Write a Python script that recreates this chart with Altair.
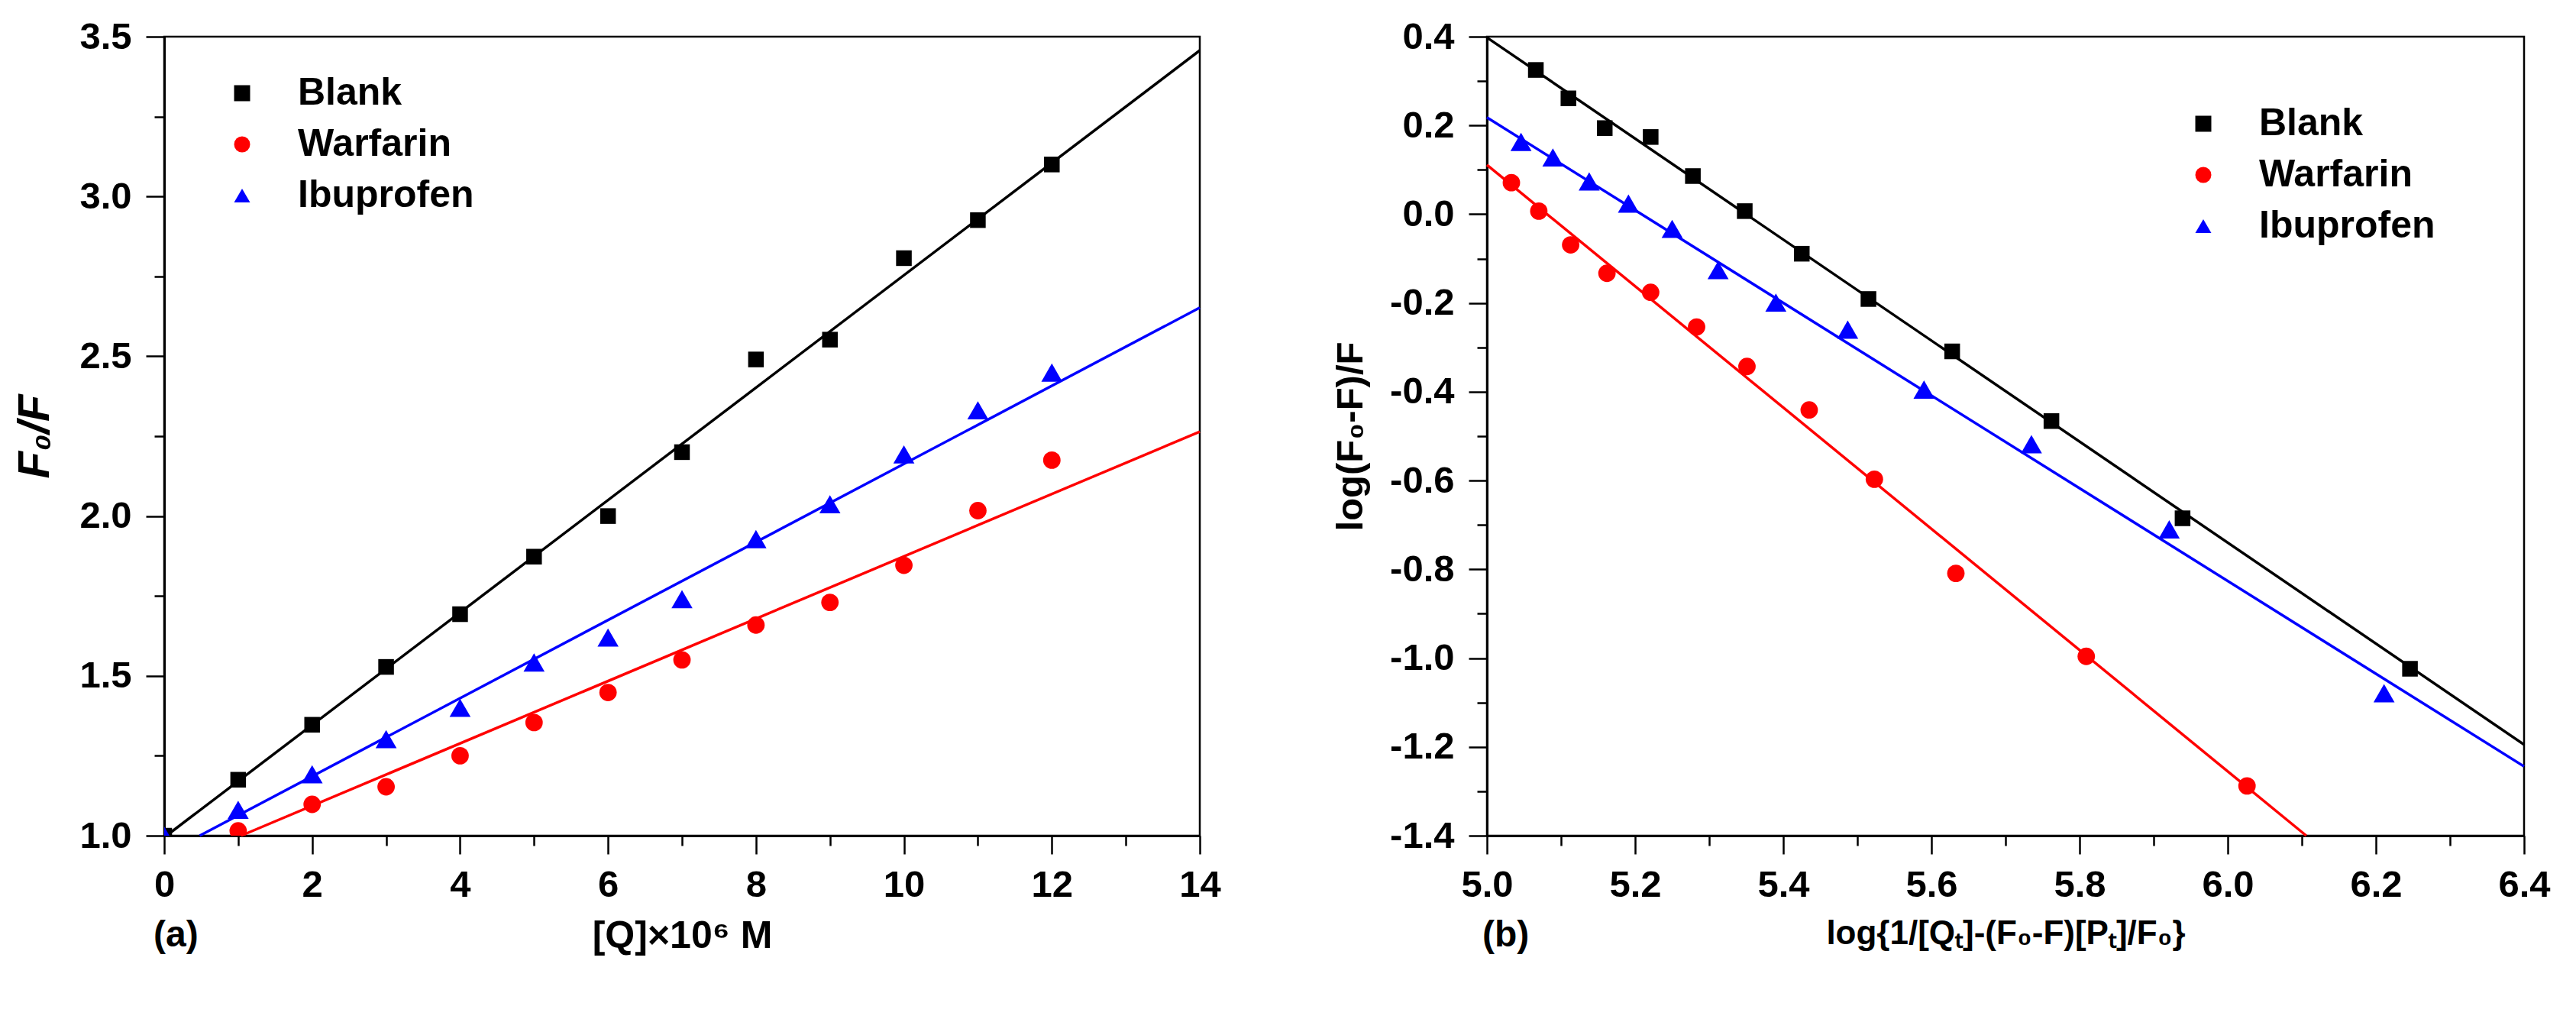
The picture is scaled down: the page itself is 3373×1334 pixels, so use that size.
import altair as alt
import pandas as pd

# ---------------- data ----------------
series = ["Blank", "Warfarin", "Ibuprofen"]
colors = ["#000000", "#ff0000", "#0000ff"]
shapes = ["square", "circle", "triangle-up"]
sizes = [420, 520, 760]

# panel (a): F0/F vs [Q]x10^6 M
a_x = [0, 1, 2, 3, 4, 5, 6, 7, 8, 9, 10, 11, 12]
a_blank = [1.0, 1.175, 1.347, 1.528, 1.693, 1.873, 2.0, 2.2, 2.49, 2.552, 2.807, 2.926, 3.10]
a_warf_x = [1, 2, 3, 4, 5, 6, 7, 8, 9, 10, 11, 12]
a_warfarin = [1.015, 1.098, 1.153, 1.25, 1.354, 1.448, 1.55, 1.659, 1.73, 1.846, 2.017, 2.175]
a_ibuprofen = [1.0, 1.081, 1.192, 1.302, 1.40, 1.542, 1.62, 1.74, 1.928, 2.037, 2.193, 2.331, 2.449]
# fitted lines of panel (a): start and end points
a_fit_x0 = [0.03, 1.04, 0.48]
a_fit_y0 = [1.0, 1.0, 1.0]
a_fit_x1 = [14.0, 14.0, 14.0]
a_fit_y1 = [3.457, 2.264, 2.652]

# panel (b): double-log plot
b_blank_x = [5.066, 5.110, 5.159, 5.221, 5.278, 5.348, 5.425, 5.515, 5.628, 5.762, 5.939, 6.246]
b_blank_y = [0.325, 0.261, 0.194, 0.174, 0.086, 0.007, -0.089, -0.191, -0.309, -0.466, -0.685, -1.024]
b_warf_x = [5.033, 5.070, 5.113, 5.162, 5.221, 5.283, 5.351, 5.435, 5.523, 5.633, 5.809, 6.026]
b_warf_y = [0.071, 0.007, -0.069, -0.133, -0.176, -0.254, -0.343, -0.441, -0.597, -0.809, -0.996, -1.288]
b_ibu_x = [5.046, 5.089, 5.138, 5.191, 5.250, 5.312, 5.390, 5.487, 5.590, 5.735, 5.921, 6.211]
b_ibu_y = [0.163, 0.128, 0.074, 0.024, -0.033, -0.126, -0.199, -0.260, -0.395, -0.518, -0.710, -1.079]
b_fit_x0 = [5.0, 5.0, 5.0]
b_fit_y0 = [0.398, 0.111, 0.218]
b_fit_x1 = [6.4, 6.106, 6.4]
b_fit_y1 = [-1.195, -1.4, -1.244]

a_xticks = [0, 2, 4, 6, 8, 10, 12, 14]
a_xminor = [1, 3, 5, 7, 9, 11, 13]
a_yticks = [1.0, 1.5, 2.0, 2.5, 3.0, 3.5]
a_yminor = [1.25, 1.75, 2.25, 2.75, 3.25]
b_xticks = [5.0, 5.2, 5.4, 5.6, 5.8, 6.0, 6.2, 6.4]
b_xminor = [5.1, 5.3, 5.5, 5.7, 5.9, 6.1, 6.3]
b_yticks = [0.4, 0.2, 0.0, -0.2, -0.4, -0.6, -0.8, -1.0, -1.2, -1.4]
b_yminor = [0.3, 0.1, -0.1, -0.3, -0.5, -0.7, -0.9, -1.1, -1.3]

# ---------------- tables ----------------
size_of = dict(zip(series, sizes))


def pts_table(groups):
    frames = []
    for name, xs, ys in groups:
        frames.append(pd.DataFrame({"x": xs, "y": ys, "series": name, "sz": size_of[name]}))
    return pd.concat(frames, ignore_index=True)


pts_a = pts_table([("Blank", a_x, a_blank), ("Warfarin", a_warf_x, a_warfarin),
                   ("Ibuprofen", a_x, a_ibuprofen)])
fit_a = pd.DataFrame({"series": series, "col": colors, "x": a_fit_x0, "y": a_fit_y0,
                      "x2": a_fit_x1, "y2": a_fit_y1})

pts_b = pts_table([("Blank", b_blank_x, b_blank_y), ("Warfarin", b_warf_x, b_warf_y),
                   ("Ibuprofen", b_ibu_x, b_ibu_y)])
fit_b = pd.DataFrame({"series": series, "col": colors, "x": b_fit_x0, "y": b_fit_y0,
                      "x2": b_fit_x1, "y2": b_fit_y1})

FONT = "Liberation Sans"
LBL = 49
H = 1046

num_expr = "(datum.value < 0 ? '-' : '') + format(abs(datum.value), '.1f')"


def panel(pts, fit, xdom, ydom, xt, xm, yt, ym, xfmt, xtitle, xtsize, ytitle, ytsize,
          yitalic, ytpad, legx, legy, tag, tagx, w):
    xs = alt.Scale(domain=xdom, nice=False, zero=False)
    ys = alt.Scale(domain=ydom, nice=False, zero=False)
    leg = alt.Legend(title=None, orient="none", legendX=legx, legendY=legy,
                     labelFont=FONT, labelFontSize=50, labelFontWeight="bold",
                     labelColor="black", labelLimit=0, symbolSize=440, symbolStrokeWidth=0,
                     rowPadding=17, labelOffset=48, padding=0)
    color = alt.Color("series:N", scale=alt.Scale(domain=series, range=colors), legend=leg)
    shape = alt.Shape("series:N", scale=alt.Scale(domain=series, range=shapes), legend=leg)

    xaxis = alt.Axis(values=xt, tickSize=24, tickWidth=2.5, tickColor="black",
                     domainWidth=3, domainColor="black", labelFont=FONT,
                     labelFontSize=LBL, labelFontWeight="bold", labelColor="black",
                     labelPadding=16, labelExpr=xfmt, grid=False, orient="bottom",
                     title=xtitle, titleFont=FONT, titleFontSize=xtsize, titleFontWeight="bold",
                     titleColor="black", titlePadding=17, labelFlush=False)
    yaxis = alt.Axis(values=yt, tickSize=24, tickWidth=2.5, tickColor="black",
                     domainWidth=3, domainColor="black", labelFont=FONT,
                     labelFontSize=LBL, labelFontWeight="bold", labelColor="black",
                     labelPadding=19, labelExpr=num_expr, grid=False, orient="left",
                     title=ytitle, titleFont=FONT, titleFontSize=ytsize, titleFontWeight="bold",
                     titleFontStyle=("italic" if yitalic else "normal"),
                     titleColor="black", titlePadding=ytpad, labelFlush=False)
    xminor = alt.Axis(values=xm, tickSize=13, tickWidth=2.5, tickColor="black",
                      domain=False, labels=False, grid=False, title=None, orient="bottom")
    yminor = alt.Axis(values=ym, tickSize=13, tickWidth=2.5, tickColor="black",
                      domain=False, labels=False, grid=False, title=None, orient="left")

    minor = alt.Chart(pts).mark_point(opacity=0).encode(
        x=alt.X("x:Q", scale=xs, axis=xminor),
        y=alt.Y("y:Q", scale=ys, axis=yminor),
    )
    lines = alt.Chart(fit).mark_rule(strokeWidth=3.5).encode(
        x=alt.X("x:Q", scale=xs, axis=None),
        y=alt.Y("y:Q", scale=ys, axis=None),
        x2="x2:Q", y2="y2:Q",
        stroke=alt.Stroke("col:N", scale=None),
    )
    points = alt.Chart(pts).mark_point(filled=True, opacity=1, clip=True).encode(
        x=alt.X("x:Q", scale=xs, axis=xaxis),
        y=alt.Y("y:Q", scale=ys, axis=yaxis),
        color=color, shape=shape,
        size=alt.Size("sz:Q", scale=None),
    )
    label = alt.Chart(pd.DataFrame({"t": [tag]})).mark_text(
        font=FONT, fontSize=48, fontWeight="bold", color="black", align="left",
        baseline="middle").encode(
        x=alt.value(tagx), y=alt.value(H + 131), text="t:N")
    return alt.layer(minor, lines, points, label).resolve_axis(
        x="independent", y="independent").properties(width=w, height=H)


left = panel(pts_a, fit_a, [0, 14], [1.0, 3.5], a_xticks, a_xminor, a_yticks, a_yminor,
             "format(datum.value, 'd')", "[Q]×10⁶ M", 50, "F₀/F", 58, True, 28,
             77, 49, "(a)", -14, 1356)
right = panel(pts_b, fit_b, [5.0, 6.4], [-1.4, 0.4], b_xticks, b_xminor, b_yticks, b_yminor,
              num_expr, "log{1/[Qₜ]-(F₀-F)[Pₜ]/F₀}", 44, "log(F₀-F)/F", 49, False, 26,
              913, 89, "(b)", -6, 1358)

chart = alt.hconcat(left, right, spacing=143).resolve_scale(
    color="independent", shape="independent"
).configure_view(stroke="black", strokeWidth=2.5).properties(
    background="white", padding={"left": 8, "top": 14, "right": 5, "bottom": 5}
)

chart.save("out.html", embed_options={"renderer": "svg", "actions": False})
